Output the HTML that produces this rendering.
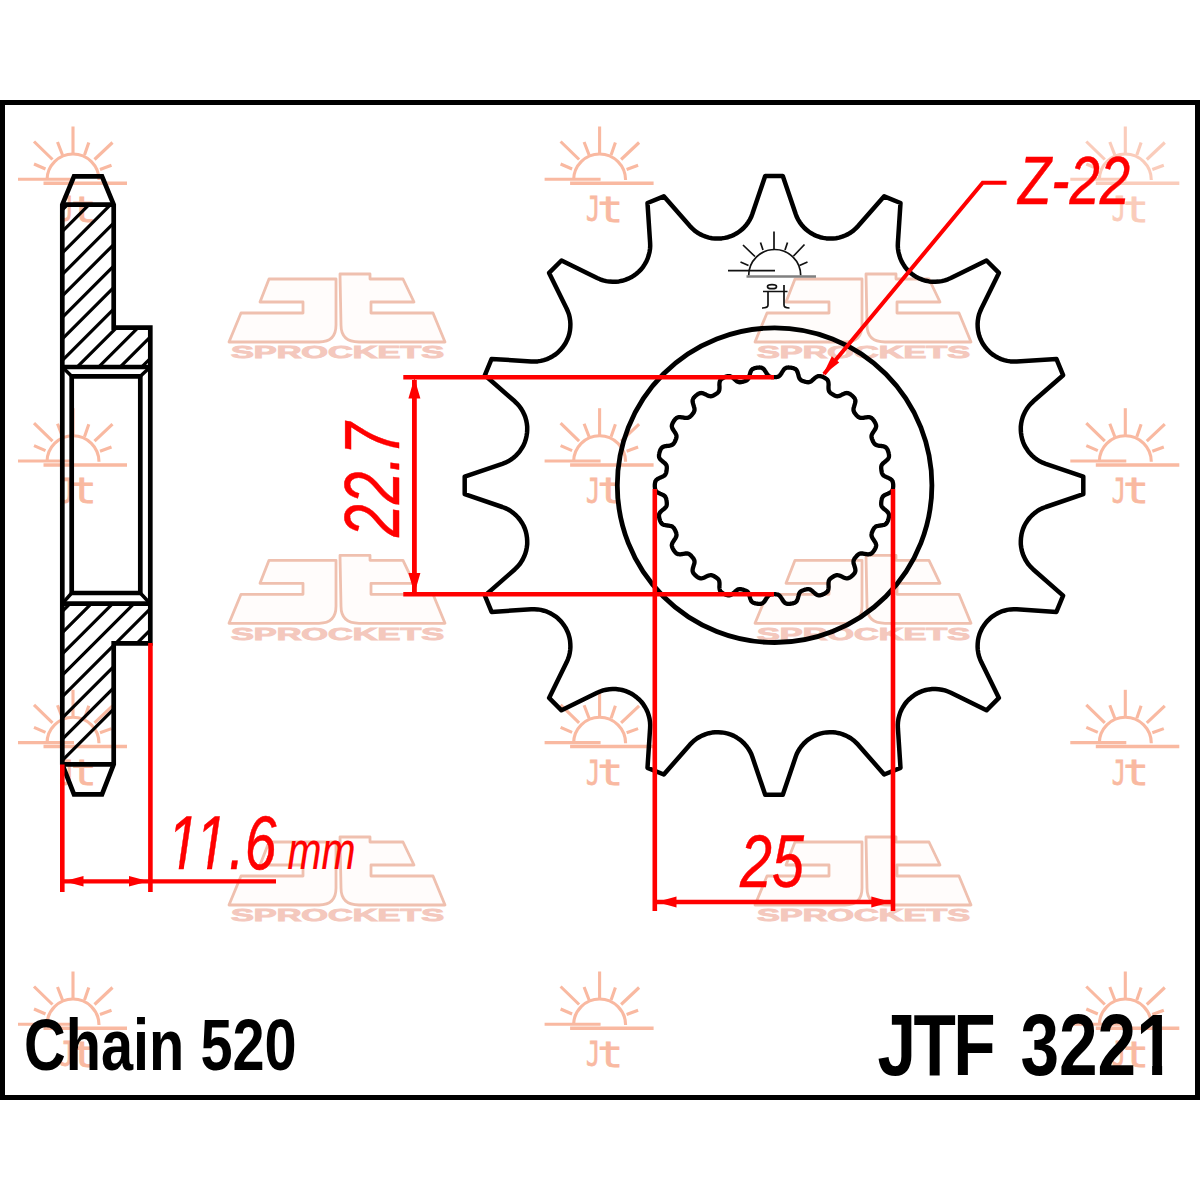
<!DOCTYPE html>
<html><head><meta charset="utf-8"><title>JTF 3221</title>
<style>
html,body{margin:0;padding:0;background:#fff;}
svg{display:block;}
text{font-family:"Liberation Sans",sans-serif;}
text.mono{font-family:"DejaVu Sans Mono","Liberation Mono",monospace;}
</style></head><body>
<svg width="1200" height="1200" viewBox="0 0 1200 1200">
<defs>
<g id="sun" fill="none" stroke="#f9b9a1" stroke-width="3.1" stroke-linecap="butt">
<path d="M-26,-1 A26,26 0 0 1 26,-1"/>
<path d="M-55,-1.7 H1"/>
<path d="M-29.5,2.2 H54" stroke-width="3.5"/>
<path d="M0,-54.5 V-27"/>
<path d="M-39,-39.5 L-20.5,-21.5 M39.5,-38.5 L21.5,-21.5"/>
<path d="M-15.5,-39 L-10.5,-26 M15.8,-38.5 L11.5,-26"/>
<path d="M-39,-17 L-27.5,-12 M38.5,-15.7 L27,-11.5"/>
<text class="mono" stroke-width="0.8" fill="#f9b9a1"><tspan x="-13.6" y="40.4" font-size="34.3" textLength="14.25" lengthAdjust="spacingAndGlyphs">J</tspan><tspan x="-2.1" y="40.7" font-size="36" textLength="25.6" lengthAdjust="spacingAndGlyphs">t</tspan></text>
</g>
<g id="jt">
<g fill="#fffcfb" stroke="#efc0af" stroke-width="2.8" stroke-linejoin="round">
<path d="M40,0 H107 V46 Q107,63 90,63 H0 L12,34 H74 V23 H31 Z"/>
<path d="M111,-5 H141 V0 H174 L185,23 H142 V34 H204 L216,63 H130 Q112,63 112,46 Z"/>
</g>
<text x="2" y="79.3" font-size="16.3" font-weight="bold" fill="#f4c8bd" stroke="#f4c8bd" stroke-width="0.9" textLength="213" lengthAdjust="spacingAndGlyphs">SPROCKETS</text>
</g>
<clipPath id="c11"><path d="M-20,-90 H300 V-6.34 H-20 Z M18.42,-16.59 L25.09,-16.59 L21.58,1.47 L14.91,1.47 Z M55.91,-16.59 L62.58,-16.59 L59.07,1.47 L52.39,1.47 Z M77.59,-8.34 H300 V20 H77.59 Z"/></clipPath>
<clipPath id="cjtf"><path d="M-20,-100 H326.59 V20 H-20 Z M325.59,-100 H384.59 V-9.48 H325.59 Z M344.60,-12.48 H357.13 V6 H344.60 Z"/></clipPath>
<clipPath id="hc1"><path d="M62.3,204.7 H113.7 V327.7 H150.3 V367 H62.3 Z"/></clipPath>
<clipPath id="hc2"><path d="M62.3,603.7 H150.3 V643.3 H113.7 V764.3 H62.3 Z"/></clipPath>
</defs>
<rect x="0" y="0" width="1200" height="1200" fill="#fff"/>
<!-- watermarks -->
<g>
<use href="#sun" x="73" y="181"/><use href="#sun" x="599.6" y="181"/><use href="#sun" x="1125.3" y="181" opacity="0.72"/><use href="#sun" x="73" y="462.7"/><use href="#sun" x="599.6" y="462.7"/><use href="#sun" x="1125.3" y="462.7"/><use href="#sun" x="73" y="744.3"/><use href="#sun" x="599.6" y="744.3"/><use href="#sun" x="1125.3" y="744.3"/><use href="#sun" x="73" y="1026"/><use href="#sun" x="599.6" y="1026"/><use href="#sun" x="1125.3" y="1026"/>
<use href="#jt" x="229" y="279"/><use href="#jt" x="755" y="279"/><use href="#jt" x="229" y="560.3"/><use href="#jt" x="755" y="560.3"/><use href="#jt" x="229" y="842"/><use href="#jt" x="755" y="842"/>
</g>
<!-- frame -->
<rect x="2.5" y="102.5" width="1195" height="995" fill="none" stroke="#000" stroke-width="5"/>

<!-- side view -->
<g fill="none" stroke="#000" stroke-width="4.7" stroke-linejoin="miter">
<g clip-path="url(#hc1)"><path d="M45.0,205.7 L185.0,65.7 M45.0,227.2 L185.0,87.2 M45.0,248.7 L185.0,108.7 M45.0,270.2 L185.0,130.2 M45.0,291.7 L185.0,151.7 M45.0,313.2 L185.0,173.2 M45.0,334.7 L185.0,194.7 M45.0,356.2 L185.0,216.2 M45.0,377.7 L185.0,237.7 M45.0,399.2 L185.0,259.2 M45.0,420.7 L185.0,280.7 M45.0,442.2 L185.0,302.2 M45.0,463.7 L185.0,323.7" stroke-width="3.2"/></g>
<g clip-path="url(#hc2)"><path d="M45.0,607.4 L185.0,467.4 M45.0,628.7 L185.0,488.7 M45.0,650.0 L185.0,510.0 M45.0,671.3 L185.0,531.3 M45.0,692.6 L185.0,552.6 M45.0,713.9 L185.0,573.9 M45.0,735.2 L185.0,595.2 M45.0,756.5 L185.0,616.5 M45.0,777.8 L185.0,637.8" stroke-width="3.2"/></g>
<path d="M74,176.3 H102 L113.7,204.7 V327.7 H150.3 V643.3 H113.7 V764.3 L102,794.3 H74 L62.3,764.3 V204.7 Z"/>
<path d="M62.3,204.7 H113.7 M62.3,764.3 H113.7"/>
<path d="M62.3,367 H150.3 M62.3,603.7 H150.3"/>
<path d="M71.7,376.3 H140.3 V593 H71.7 Z"/>
<path d="M62.3,367 L71.7,376.3 M150.3,367 L140.3,376.3 M62.3,603.7 L71.7,593 M150.3,603.7 L140.3,593" stroke-width="3.5"/>
</g>

<!-- sprocket -->
<g fill="none" stroke="#000" stroke-width="4.5" stroke-linejoin="round">
<path d="M782.8,176.1 L795.6,213.7 L796.7,216.7 L798.1,219.6 L799.8,222.3 L801.7,224.9 L803.8,227.3 L806.1,229.5 L808.6,231.5 L811.3,233.3 L814.1,234.9 L817.1,236.2 L820.1,237.2 L823.2,237.9 L826.4,238.4 L829.6,238.6 L832.8,238.6 L836.0,238.2 L839.1,237.6 L842.2,236.7 L845.2,235.5 L848.1,234.1 L850.8,232.5 L853.4,230.6 L855.8,228.4 L858.1,226.1 L884.2,196.3 L900.5,203.0 L897.9,242.6 L897.8,245.8 L898.0,249.0 L898.5,252.2 L899.3,255.3 L900.3,258.4 L901.6,261.3 L903.2,264.1 L904.9,266.8 L906.9,269.3 L909.2,271.6 L911.6,273.7 L914.2,275.6 L916.9,277.3 L919.8,278.7 L922.8,279.9 L925.9,280.8 L929.0,281.4 L932.2,281.7 L935.4,281.8 L938.6,281.6 L941.8,281.1 L944.9,280.4 L947.9,279.3 L950.9,278.0 L986.5,260.5 L998.9,272.9 L981.4,308.5 L980.1,311.5 L979.0,314.5 L978.3,317.6 L977.8,320.8 L977.6,324.0 L977.7,327.2 L978.0,330.4 L978.6,333.5 L979.5,336.6 L980.7,339.6 L982.1,342.5 L983.8,345.2 L985.7,347.8 L987.8,350.2 L990.1,352.5 L992.6,354.5 L995.3,356.2 L998.1,357.8 L1001.0,359.1 L1004.1,360.1 L1007.2,360.9 L1010.4,361.4 L1013.6,361.6 L1016.8,361.5 L1056.4,358.9 L1063.1,375.2 L1033.3,401.3 L1031.0,403.6 L1028.8,406.0 L1026.9,408.6 L1025.3,411.3 L1023.9,414.2 L1022.7,417.2 L1021.8,420.3 L1021.2,423.4 L1020.8,426.6 L1020.8,429.8 L1021.0,433.0 L1021.5,436.2 L1022.2,439.3 L1023.2,442.3 L1024.5,445.3 L1026.1,448.1 L1027.9,450.8 L1029.9,453.3 L1032.1,455.6 L1034.5,457.7 L1037.1,459.6 L1039.8,461.3 L1042.7,462.7 L1045.7,463.8 L1083.3,476.6 L1083.3,494.2 L1045.7,507.0 L1042.7,508.1 L1039.8,509.5 L1037.1,511.2 L1034.5,513.1 L1032.1,515.2 L1029.9,517.5 L1027.9,520.0 L1026.1,522.7 L1024.5,525.5 L1023.2,528.5 L1022.2,531.5 L1021.5,534.6 L1021.0,537.8 L1020.8,541.0 L1020.8,544.2 L1021.2,547.4 L1021.8,550.5 L1022.7,553.6 L1023.9,556.6 L1025.3,559.5 L1026.9,562.2 L1028.8,564.8 L1031.0,567.2 L1033.3,569.5 L1063.1,595.6 L1056.4,611.9 L1016.8,609.3 L1013.6,609.2 L1010.4,609.4 L1007.2,609.9 L1004.1,610.7 L1001.0,611.7 L998.1,613.0 L995.3,614.6 L992.6,616.3 L990.1,618.3 L987.8,620.6 L985.7,623.0 L983.8,625.6 L982.1,628.3 L980.7,631.2 L979.5,634.2 L978.6,637.3 L978.0,640.4 L977.7,643.6 L977.6,646.8 L977.8,650.0 L978.3,653.2 L979.0,656.3 L980.1,659.3 L981.4,662.3 L998.9,697.9 L986.5,710.3 L950.9,692.8 L947.9,691.5 L944.9,690.4 L941.8,689.7 L938.6,689.2 L935.4,689.0 L932.2,689.1 L929.0,689.4 L925.9,690.0 L922.8,690.9 L919.8,692.1 L916.9,693.5 L914.2,695.2 L911.6,697.1 L909.2,699.2 L906.9,701.5 L904.9,704.0 L903.2,706.7 L901.6,709.5 L900.3,712.4 L899.3,715.5 L898.5,718.6 L898.0,721.8 L897.8,725.0 L897.9,728.2 L900.5,767.8 L884.2,774.5 L858.1,744.7 L855.8,742.4 L853.4,740.2 L850.8,738.3 L848.1,736.7 L845.2,735.3 L842.2,734.1 L839.1,733.2 L836.0,732.6 L832.8,732.2 L829.6,732.2 L826.4,732.4 L823.2,732.9 L820.1,733.6 L817.1,734.6 L814.1,735.9 L811.3,737.5 L808.6,739.3 L806.1,741.3 L803.8,743.5 L801.7,745.9 L799.8,748.5 L798.1,751.2 L796.7,754.1 L795.6,757.1 L782.8,794.7 L765.2,794.7 L752.4,757.1 L751.3,754.1 L749.9,751.2 L748.2,748.5 L746.3,745.9 L744.2,743.5 L741.9,741.3 L739.4,739.3 L736.7,737.5 L733.9,735.9 L730.9,734.6 L727.9,733.6 L724.8,732.9 L721.6,732.4 L718.4,732.2 L715.2,732.2 L712.0,732.6 L708.9,733.2 L705.8,734.1 L702.8,735.3 L699.9,736.7 L697.2,738.3 L694.6,740.2 L692.2,742.4 L689.9,744.7 L663.8,774.5 L647.5,767.8 L650.1,728.2 L650.2,725.0 L650.0,721.8 L649.5,718.6 L648.7,715.5 L647.7,712.4 L646.4,709.5 L644.8,706.7 L643.1,704.0 L641.1,701.5 L638.8,699.2 L636.4,697.1 L633.8,695.2 L631.1,693.5 L628.2,692.1 L625.2,690.9 L622.1,690.0 L619.0,689.4 L615.8,689.1 L612.6,689.0 L609.4,689.2 L606.2,689.7 L603.1,690.4 L600.1,691.5 L597.1,692.8 L561.5,710.3 L549.1,697.9 L566.6,662.3 L567.9,659.3 L569.0,656.3 L569.7,653.2 L570.2,650.0 L570.4,646.8 L570.3,643.6 L570.0,640.4 L569.4,637.3 L568.5,634.2 L567.3,631.2 L565.9,628.3 L564.2,625.6 L562.3,623.0 L560.2,620.6 L557.9,618.3 L555.4,616.3 L552.7,614.6 L549.9,613.0 L547.0,611.7 L543.9,610.7 L540.8,609.9 L537.6,609.4 L534.4,609.2 L531.2,609.3 L491.6,611.9 L484.9,595.6 L514.7,569.5 L517.0,567.2 L519.2,564.8 L521.1,562.2 L522.7,559.5 L524.1,556.6 L525.3,553.6 L526.2,550.5 L526.8,547.4 L527.2,544.2 L527.2,541.0 L527.0,537.8 L526.5,534.6 L525.8,531.5 L524.8,528.5 L523.5,525.5 L521.9,522.7 L520.1,520.0 L518.1,517.5 L515.9,515.2 L513.5,513.1 L510.9,511.2 L508.2,509.5 L505.3,508.1 L502.3,507.0 L464.7,494.2 L464.7,476.6 L502.3,463.8 L505.3,462.7 L508.2,461.3 L510.9,459.6 L513.5,457.7 L515.9,455.6 L518.1,453.3 L520.1,450.8 L521.9,448.1 L523.5,445.3 L524.8,442.3 L525.8,439.3 L526.5,436.2 L527.0,433.0 L527.2,429.8 L527.2,426.6 L526.8,423.4 L526.2,420.3 L525.3,417.2 L524.1,414.2 L522.7,411.3 L521.1,408.6 L519.2,406.0 L517.0,403.6 L514.7,401.3 L484.9,375.2 L491.6,358.9 L531.2,361.5 L534.4,361.6 L537.6,361.4 L540.8,360.9 L543.9,360.1 L547.0,359.1 L549.9,357.8 L552.7,356.2 L555.4,354.5 L557.9,352.5 L560.2,350.2 L562.3,347.8 L564.2,345.2 L565.9,342.5 L567.3,339.6 L568.5,336.6 L569.4,333.5 L570.0,330.4 L570.3,327.2 L570.4,324.0 L570.2,320.8 L569.7,317.6 L569.0,314.5 L567.9,311.5 L566.6,308.5 L549.1,272.9 L561.5,260.5 L597.1,278.0 L600.1,279.3 L603.1,280.4 L606.2,281.1 L609.4,281.6 L612.6,281.8 L615.8,281.7 L619.0,281.4 L622.1,280.8 L625.2,279.9 L628.2,278.7 L631.1,277.3 L633.8,275.6 L636.4,273.7 L638.8,271.6 L641.1,269.3 L643.1,266.8 L644.8,264.1 L646.4,261.3 L647.7,258.4 L648.7,255.3 L649.5,252.2 L650.0,249.0 L650.2,245.8 L650.1,242.6 L647.5,203.0 L663.8,196.3 L689.9,226.1 L692.2,228.4 L694.6,230.6 L697.2,232.5 L699.9,234.1 L702.8,235.5 L705.8,236.7 L708.9,237.6 L712.0,238.2 L715.2,238.6 L718.4,238.6 L721.6,238.4 L724.8,237.9 L727.9,237.2 L730.9,236.2 L733.9,234.9 L736.7,233.3 L739.4,231.5 L741.9,229.5 L744.2,227.3 L746.3,224.9 L748.2,222.3 L749.9,219.6 L751.3,216.7 L752.4,213.7 L765.2,176.1 Z"/>
<circle cx="774.6" cy="485.2" r="157.3" stroke-width="4.8"/>
<path d="M893.2,485.7 L893.2,486.2 L893.2,486.7 L893.1,487.3 L893.1,487.8 L893.0,488.3 L892.9,488.8 L892.8,489.3 L892.6,489.8 L892.4,490.4 L892.1,490.9 L891.7,491.4 L891.2,491.8 L890.6,492.3 L889.8,492.8 L888.9,493.2 L887.9,493.7 L886.9,494.1 L886.0,494.5 L885.1,494.9 L884.3,495.4 L883.7,495.8 L883.2,496.2 L882.8,496.7 L882.5,497.1 L882.3,497.6 L882.1,498.0 L881.9,498.5 L881.8,498.9 L881.7,499.4 L881.6,499.9 L881.5,500.3 L881.4,500.8 L881.4,501.3 L881.3,501.7 L881.3,502.2 L881.2,502.7 L881.2,503.2 L881.2,503.6 L881.2,504.1 L881.2,504.6 L881.3,505.1 L881.4,505.6 L881.6,506.1 L881.9,506.7 L882.4,507.3 L882.9,507.9 L883.6,508.5 L884.3,509.2 L885.2,509.8 L886.0,510.5 L886.8,511.2 L887.5,511.9 L888.0,512.5 L888.4,513.2 L888.7,513.8 L888.9,514.3 L889.0,514.9 L889.0,515.4 L889.0,516.0 L889.0,516.5 L888.9,517.0 L888.8,517.5 L888.7,518.0 L888.6,518.6 L888.4,519.1 L888.3,519.6 L888.1,520.0 L888.0,520.5 L887.8,521.0 L887.6,521.5 L887.3,522.0 L887.1,522.4 L886.8,522.9 L886.5,523.3 L886.1,523.7 L885.6,524.1 L885.0,524.5 L884.3,524.8 L883.5,525.0 L882.6,525.2 L881.6,525.4 L880.5,525.5 L879.4,525.6 L878.4,525.8 L877.5,526.0 L876.7,526.2 L876.1,526.4 L875.6,526.7 L875.1,527.1 L874.7,527.4 L874.4,527.8 L874.1,528.2 L873.8,528.6 L873.6,529.0 L873.4,529.4 L873.1,529.8 L872.9,530.3 L872.7,530.7 L872.5,531.1 L872.3,531.6 L872.2,532.0 L872.0,532.4 L871.8,532.9 L871.7,533.4 L871.6,533.8 L871.5,534.3 L871.5,534.8 L871.5,535.4 L871.6,536.0 L871.8,536.6 L872.1,537.3 L872.5,538.1 L873.0,538.9 L873.6,539.8 L874.2,540.7 L874.8,541.6 L875.3,542.4 L875.7,543.2 L875.9,544.0 L876.1,544.6 L876.2,545.3 L876.1,545.9 L876.0,546.4 L875.9,546.9 L875.7,547.4 L875.5,547.9 L875.3,548.4 L875.1,548.8 L874.8,549.3 L874.5,549.7 L874.3,550.2 L874.0,550.6 L873.7,551.0 L873.4,551.5 L873.0,551.9 L872.7,552.3 L872.3,552.7 L871.9,553.0 L871.5,553.4 L871.1,553.7 L870.5,553.9 L869.9,554.1 L869.2,554.2 L868.4,554.3 L867.5,554.3 L866.5,554.1 L865.4,554.0 L864.4,553.8 L863.3,553.6 L862.4,553.5 L861.5,553.5 L860.8,553.5 L860.1,553.6 L859.6,553.8 L859.1,554.0 L858.7,554.3 L858.2,554.5 L857.9,554.8 L857.5,555.2 L857.2,555.5 L856.8,555.8 L856.5,556.2 L856.2,556.5 L855.9,556.9 L855.6,557.2 L855.3,557.6 L855.0,558.0 L854.7,558.4 L854.4,558.8 L854.2,559.2 L854.0,559.6 L853.8,560.1 L853.6,560.6 L853.5,561.1 L853.5,561.8 L853.5,562.5 L853.6,563.3 L853.9,564.2 L854.2,565.2 L854.5,566.2 L854.8,567.2 L855.1,568.2 L855.3,569.2 L855.4,570.0 L855.4,570.7 L855.3,571.4 L855.1,571.9 L854.9,572.5 L854.7,572.9 L854.4,573.4 L854.0,573.8 L853.7,574.2 L853.3,574.6 L853.0,575.0 L852.6,575.3 L852.2,575.7 L851.8,576.0 L851.4,576.3 L851.0,576.7 L850.6,577.0 L850.1,577.3 L849.7,577.5 L849.2,577.8 L848.7,578.0 L848.2,578.2 L847.7,578.3 L847.1,578.4 L846.4,578.3 L845.6,578.2 L844.8,578.0 L843.9,577.6 L842.9,577.2 L842.0,576.7 L841.0,576.2 L840.1,575.8 L839.2,575.5 L838.5,575.3 L837.8,575.2 L837.2,575.1 L836.6,575.2 L836.1,575.3 L835.7,575.4 L835.2,575.6 L834.8,575.8 L834.3,576.0 L833.9,576.2 L833.5,576.5 L833.1,576.7 L832.7,577.0 L832.3,577.2 L831.9,577.5 L831.5,577.8 L831.1,578.0 L830.8,578.3 L830.4,578.6 L830.0,579.0 L829.7,579.4 L829.4,579.8 L829.1,580.2 L828.9,580.8 L828.7,581.4 L828.6,582.2 L828.5,583.1 L828.5,584.1 L828.5,585.1 L828.6,586.2 L828.6,587.3 L828.5,588.3 L828.4,589.1 L828.2,589.9 L828.0,590.5 L827.7,591.1 L827.4,591.6 L827.0,592.0 L826.6,592.3 L826.2,592.6 L825.7,592.9 L825.3,593.2 L824.8,593.5 L824.4,593.7 L823.9,593.9 L823.4,594.2 L823.0,594.4 L822.5,594.6 L822.0,594.8 L821.5,594.9 L821.0,595.1 L820.5,595.2 L820.0,595.3 L819.4,595.3 L818.9,595.3 L818.3,595.3 L817.6,595.1 L817.0,594.8 L816.3,594.4 L815.5,593.9 L814.7,593.2 L813.9,592.5 L813.1,591.8 L812.4,591.1 L811.6,590.5 L810.9,590.0 L810.3,589.6 L809.7,589.4 L809.1,589.2 L808.6,589.2 L808.1,589.1 L807.6,589.2 L807.1,589.2 L806.7,589.3 L806.2,589.4 L805.7,589.5 L805.3,589.6 L804.8,589.7 L804.4,589.9 L803.9,590.0 L803.5,590.2 L803.0,590.3 L802.6,590.5 L802.1,590.7 L801.7,590.9 L801.3,591.1 L800.8,591.4 L800.4,591.8 L800.1,592.2 L799.7,592.7 L799.3,593.3 L799.0,594.1 L798.7,595.0 L798.5,596.0 L798.2,597.0 L797.9,598.1 L797.6,599.1 L797.2,599.9 L796.9,600.7 L796.5,601.3 L796.0,601.8 L795.6,602.2 L795.1,602.5 L794.6,602.7 L794.1,602.9 L793.6,603.1 L793.1,603.3 L792.6,603.4 L792.1,603.5 L791.6,603.6 L791.1,603.7 L790.6,603.7 L790.1,603.8 L789.6,603.8 L789.0,603.9 L788.5,603.9 L788.0,603.9 L787.5,603.8 L786.9,603.8 L786.4,603.6 L785.9,603.4 L785.3,603.1 L784.8,602.7 L784.2,602.2 L783.6,601.5 L783.1,600.7 L782.5,599.9 L781.9,598.9 L781.4,598.0 L780.8,597.2 L780.3,596.5 L779.8,595.9 L779.3,595.4 L778.8,595.1 L778.3,594.8 L777.8,594.6 L777.3,594.5 L776.8,594.4 L776.4,594.3 L775.9,594.3 L775.4,594.2 L774.9,594.2 L774.5,594.2 L774.0,594.2 L773.5,594.2 L773.1,594.2 L772.6,594.2 L772.1,594.3 L771.6,594.3 L771.2,594.4 L770.7,594.5 L770.2,594.6 L769.7,594.8 L769.2,595.1 L768.7,595.4 L768.2,595.9 L767.7,596.5 L767.2,597.2 L766.6,598.0 L766.1,598.9 L765.5,599.9 L764.9,600.7 L764.4,601.5 L763.8,602.2 L763.2,602.7 L762.7,603.1 L762.1,603.4 L761.6,603.6 L761.1,603.8 L760.5,603.8 L760.0,603.9 L759.5,603.9 L759.0,603.9 L758.4,603.8 L757.9,603.8 L757.4,603.7 L756.9,603.7 L756.4,603.6 L755.9,603.5 L755.4,603.4 L754.9,603.3 L754.4,603.1 L753.9,602.9 L753.4,602.7 L752.9,602.5 L752.4,602.2 L752.0,601.8 L751.5,601.3 L751.1,600.7 L750.8,599.9 L750.4,599.1 L750.1,598.1 L749.8,597.0 L749.5,596.0 L749.3,595.0 L749.0,594.1 L748.7,593.3 L748.3,592.7 L747.9,592.2 L747.6,591.8 L747.2,591.4 L746.7,591.1 L746.3,590.9 L745.9,590.7 L745.4,590.5 L745.0,590.3 L744.5,590.2 L744.1,590.0 L743.6,589.9 L743.2,589.7 L742.7,589.6 L742.3,589.5 L741.8,589.4 L741.3,589.3 L740.9,589.2 L740.4,589.2 L739.9,589.1 L739.4,589.2 L738.9,589.2 L738.3,589.4 L737.7,589.6 L737.1,590.0 L736.4,590.5 L735.6,591.1 L734.9,591.8 L734.1,592.5 L733.3,593.2 L732.5,593.9 L731.7,594.4 L731.0,594.8 L730.4,595.1 L729.7,595.3 L729.1,595.3 L728.6,595.3 L728.0,595.3 L727.5,595.2 L727.0,595.1 L726.5,594.9 L726.0,594.8 L725.5,594.6 L725.0,594.4 L724.6,594.2 L724.1,593.9 L723.6,593.7 L723.2,593.5 L722.7,593.2 L722.3,592.9 L721.8,592.6 L721.4,592.3 L721.0,592.0 L720.6,591.6 L720.3,591.1 L720.0,590.5 L719.8,589.9 L719.6,589.1 L719.5,588.3 L719.4,587.3 L719.4,586.2 L719.5,585.1 L719.5,584.1 L719.5,583.1 L719.4,582.2 L719.3,581.4 L719.1,580.8 L718.9,580.2 L718.6,579.8 L718.3,579.4 L718.0,579.0 L717.6,578.6 L717.2,578.3 L716.9,578.0 L716.5,577.8 L716.1,577.5 L715.7,577.2 L715.3,577.0 L714.9,576.7 L714.5,576.5 L714.1,576.2 L713.7,576.0 L713.2,575.8 L712.8,575.6 L712.3,575.4 L711.9,575.3 L711.4,575.2 L710.8,575.1 L710.2,575.2 L709.5,575.3 L708.8,575.5 L707.9,575.8 L707.0,576.2 L706.0,576.7 L705.1,577.2 L704.1,577.6 L703.2,578.0 L702.4,578.2 L701.6,578.3 L700.9,578.4 L700.3,578.3 L699.8,578.2 L699.3,578.0 L698.8,577.8 L698.3,577.5 L697.9,577.3 L697.4,577.0 L697.0,576.7 L696.6,576.3 L696.2,576.0 L695.8,575.7 L695.4,575.3 L695.0,575.0 L694.7,574.6 L694.3,574.2 L694.0,573.8 L693.6,573.4 L693.3,572.9 L693.1,572.5 L692.9,571.9 L692.7,571.4 L692.6,570.7 L692.6,570.0 L692.7,569.2 L692.9,568.2 L693.2,567.2 L693.5,566.2 L693.8,565.2 L694.1,564.2 L694.4,563.3 L694.5,562.5 L694.5,561.8 L694.5,561.1 L694.4,560.6 L694.2,560.1 L694.0,559.6 L693.8,559.2 L693.6,558.8 L693.3,558.4 L693.0,558.0 L692.7,557.6 L692.4,557.2 L692.1,556.9 L691.8,556.5 L691.5,556.2 L691.2,555.8 L690.8,555.5 L690.5,555.2 L690.1,554.8 L689.8,554.5 L689.3,554.3 L688.9,554.0 L688.4,553.8 L687.9,553.6 L687.2,553.5 L686.5,553.5 L685.6,553.5 L684.7,553.6 L683.6,553.8 L682.6,554.0 L681.5,554.1 L680.5,554.3 L679.6,554.3 L678.8,554.2 L678.1,554.1 L677.5,553.9 L676.9,553.7 L676.5,553.4 L676.1,553.0 L675.7,552.7 L675.3,552.3 L675.0,551.9 L674.6,551.5 L674.3,551.0 L674.0,550.6 L673.7,550.2 L673.5,549.7 L673.2,549.3 L672.9,548.8 L672.7,548.4 L672.5,547.9 L672.3,547.4 L672.1,546.9 L672.0,546.4 L671.9,545.9 L671.8,545.3 L671.9,544.6 L672.1,544.0 L672.3,543.2 L672.7,542.4 L673.2,541.6 L673.8,540.7 L674.4,539.8 L675.0,538.9 L675.5,538.1 L675.9,537.3 L676.2,536.6 L676.4,536.0 L676.5,535.4 L676.5,534.8 L676.5,534.3 L676.4,533.8 L676.3,533.4 L676.2,532.9 L676.0,532.4 L675.8,532.0 L675.7,531.6 L675.5,531.1 L675.3,530.7 L675.1,530.3 L674.9,529.8 L674.6,529.4 L674.4,529.0 L674.2,528.6 L673.9,528.2 L673.6,527.8 L673.3,527.4 L672.9,527.1 L672.4,526.7 L671.9,526.4 L671.3,526.2 L670.5,526.0 L669.6,525.8 L668.6,525.6 L667.5,525.5 L666.4,525.4 L665.4,525.2 L664.5,525.0 L663.7,524.8 L663.0,524.5 L662.4,524.1 L661.9,523.7 L661.5,523.3 L661.2,522.9 L660.9,522.4 L660.7,522.0 L660.4,521.5 L660.2,521.0 L660.0,520.5 L659.9,520.0 L659.7,519.6 L659.6,519.1 L659.4,518.6 L659.3,518.0 L659.2,517.5 L659.1,517.0 L659.0,516.5 L659.0,516.0 L659.0,515.4 L659.0,514.9 L659.1,514.3 L659.3,513.8 L659.6,513.2 L660.0,512.5 L660.5,511.9 L661.2,511.2 L662.0,510.5 L662.8,509.8 L663.7,509.2 L664.4,508.5 L665.1,507.9 L665.6,507.3 L666.1,506.7 L666.4,506.1 L666.6,505.6 L666.7,505.1 L666.8,504.6 L666.8,504.1 L666.8,503.6 L666.8,503.2 L666.8,502.7 L666.7,502.2 L666.7,501.7 L666.6,501.3 L666.6,500.8 L666.5,500.3 L666.4,499.9 L666.3,499.4 L666.2,498.9 L666.1,498.5 L665.9,498.0 L665.7,497.6 L665.5,497.1 L665.2,496.7 L664.8,496.2 L664.3,495.8 L663.7,495.4 L662.9,494.9 L662.0,494.5 L661.1,494.1 L660.1,493.7 L659.1,493.2 L658.2,492.8 L657.4,492.3 L656.8,491.8 L656.3,491.4 L655.9,490.9 L655.6,490.4 L655.4,489.8 L655.2,489.3 L655.1,488.8 L655.0,488.3 L654.9,487.8 L654.9,487.3 L654.8,486.7 L654.8,486.2 L654.8,485.7 L654.8,485.2 L654.8,484.7 L654.9,484.1 L654.9,483.6 L655.0,483.1 L655.1,482.6 L655.2,482.1 L655.4,481.6 L655.6,481.0 L655.9,480.5 L656.3,480.0 L656.8,479.6 L657.4,479.1 L658.2,478.6 L659.1,478.2 L660.1,477.7 L661.1,477.3 L662.0,476.9 L662.9,476.5 L663.7,476.0 L664.3,475.6 L664.8,475.2 L665.2,474.7 L665.5,474.3 L665.7,473.8 L665.9,473.4 L666.1,472.9 L666.2,472.5 L666.3,472.0 L666.4,471.5 L666.5,471.1 L666.6,470.6 L666.6,470.1 L666.7,469.7 L666.7,469.2 L666.8,468.7 L666.8,468.2 L666.8,467.8 L666.8,467.3 L666.8,466.8 L666.7,466.3 L666.6,465.8 L666.4,465.3 L666.1,464.7 L665.6,464.1 L665.1,463.5 L664.4,462.9 L663.7,462.2 L662.8,461.6 L662.0,460.9 L661.2,460.2 L660.5,459.5 L660.0,458.9 L659.6,458.2 L659.3,457.6 L659.1,457.1 L659.0,456.5 L659.0,456.0 L659.0,455.4 L659.0,454.9 L659.1,454.4 L659.2,453.9 L659.3,453.4 L659.4,452.8 L659.6,452.3 L659.7,451.8 L659.9,451.4 L660.0,450.9 L660.2,450.4 L660.4,449.9 L660.7,449.4 L660.9,449.0 L661.2,448.5 L661.5,448.1 L661.9,447.7 L662.4,447.3 L663.0,446.9 L663.7,446.6 L664.5,446.4 L665.4,446.2 L666.4,446.0 L667.5,445.9 L668.6,445.8 L669.6,445.6 L670.5,445.4 L671.3,445.2 L671.9,445.0 L672.4,444.7 L672.9,444.3 L673.3,444.0 L673.6,443.6 L673.9,443.2 L674.2,442.8 L674.4,442.4 L674.6,442.0 L674.9,441.6 L675.1,441.1 L675.3,440.7 L675.5,440.3 L675.7,439.8 L675.8,439.4 L676.0,439.0 L676.2,438.5 L676.3,438.0 L676.4,437.6 L676.5,437.1 L676.5,436.6 L676.5,436.0 L676.4,435.4 L676.2,434.8 L675.9,434.1 L675.5,433.3 L675.0,432.5 L674.4,431.6 L673.8,430.7 L673.2,429.8 L672.7,429.0 L672.3,428.2 L672.1,427.4 L671.9,426.8 L671.8,426.1 L671.9,425.5 L672.0,425.0 L672.1,424.5 L672.3,424.0 L672.5,423.5 L672.7,423.0 L672.9,422.6 L673.2,422.1 L673.5,421.7 L673.7,421.2 L674.0,420.8 L674.3,420.4 L674.6,419.9 L675.0,419.5 L675.3,419.1 L675.7,418.7 L676.1,418.4 L676.5,418.0 L676.9,417.7 L677.5,417.5 L678.1,417.3 L678.8,417.2 L679.6,417.1 L680.5,417.1 L681.5,417.3 L682.6,417.4 L683.6,417.6 L684.7,417.8 L685.6,417.9 L686.5,417.9 L687.2,417.9 L687.9,417.8 L688.4,417.6 L688.9,417.4 L689.3,417.1 L689.8,416.9 L690.1,416.6 L690.5,416.2 L690.8,415.9 L691.2,415.6 L691.5,415.2 L691.8,414.9 L692.1,414.5 L692.4,414.2 L692.7,413.8 L693.0,413.4 L693.3,413.0 L693.6,412.6 L693.8,412.2 L694.0,411.8 L694.2,411.3 L694.4,410.8 L694.5,410.3 L694.5,409.6 L694.5,408.9 L694.4,408.1 L694.1,407.2 L693.8,406.2 L693.5,405.2 L693.2,404.2 L692.9,403.2 L692.7,402.2 L692.6,401.4 L692.6,400.7 L692.7,400.0 L692.9,399.5 L693.1,398.9 L693.3,398.5 L693.6,398.0 L694.0,397.6 L694.3,397.2 L694.7,396.8 L695.0,396.4 L695.4,396.1 L695.8,395.7 L696.2,395.4 L696.6,395.1 L697.0,394.7 L697.4,394.4 L697.9,394.1 L698.3,393.9 L698.8,393.6 L699.3,393.4 L699.8,393.2 L700.3,393.1 L700.9,393.0 L701.6,393.1 L702.4,393.2 L703.2,393.4 L704.1,393.8 L705.1,394.2 L706.0,394.7 L707.0,395.2 L707.9,395.6 L708.8,395.9 L709.5,396.1 L710.2,396.2 L710.8,396.3 L711.4,396.2 L711.9,396.1 L712.3,396.0 L712.8,395.8 L713.2,395.6 L713.7,395.4 L714.1,395.2 L714.5,394.9 L714.9,394.7 L715.3,394.4 L715.7,394.2 L716.1,393.9 L716.5,393.6 L716.9,393.4 L717.2,393.1 L717.6,392.8 L718.0,392.4 L718.3,392.0 L718.6,391.6 L718.9,391.2 L719.1,390.6 L719.3,390.0 L719.4,389.2 L719.5,388.3 L719.5,387.3 L719.5,386.3 L719.4,385.2 L719.4,384.1 L719.5,383.1 L719.6,382.3 L719.8,381.5 L720.0,380.9 L720.3,380.3 L720.6,379.8 L721.0,379.4 L721.4,379.1 L721.8,378.8 L722.3,378.5 L722.7,378.2 L723.2,377.9 L723.6,377.7 L724.1,377.5 L724.6,377.2 L725.0,377.0 L725.5,376.8 L726.0,376.6 L726.5,376.5 L727.0,376.3 L727.5,376.2 L728.0,376.1 L728.6,376.1 L729.1,376.1 L729.7,376.1 L730.4,376.3 L731.0,376.6 L731.7,377.0 L732.5,377.5 L733.3,378.2 L734.1,378.9 L734.9,379.6 L735.6,380.3 L736.4,380.9 L737.1,381.4 L737.7,381.8 L738.3,382.0 L738.9,382.2 L739.4,382.2 L739.9,382.3 L740.4,382.2 L740.9,382.2 L741.3,382.1 L741.8,382.0 L742.3,381.9 L742.7,381.8 L743.2,381.7 L743.6,381.5 L744.1,381.4 L744.5,381.2 L745.0,381.1 L745.4,380.9 L745.9,380.7 L746.3,380.5 L746.7,380.3 L747.2,380.0 L747.6,379.6 L747.9,379.2 L748.3,378.7 L748.7,378.1 L749.0,377.3 L749.3,376.4 L749.5,375.4 L749.8,374.4 L750.1,373.3 L750.4,372.3 L750.8,371.5 L751.1,370.7 L751.5,370.1 L752.0,369.6 L752.4,369.2 L752.9,368.9 L753.4,368.7 L753.9,368.5 L754.4,368.3 L754.9,368.1 L755.4,368.0 L755.9,367.9 L756.4,367.8 L756.9,367.7 L757.4,367.7 L757.9,367.6 L758.4,367.6 L759.0,367.5 L759.5,367.5 L760.0,367.5 L760.5,367.6 L761.1,367.6 L761.6,367.8 L762.1,368.0 L762.7,368.3 L763.2,368.7 L763.8,369.2 L764.4,369.9 L764.9,370.7 L765.5,371.5 L766.1,372.5 L766.6,373.4 L767.2,374.2 L767.7,374.9 L768.2,375.5 L768.7,376.0 L769.2,376.3 L769.7,376.6 L770.2,376.8 L770.7,376.9 L771.2,377.0 L771.6,377.1 L772.1,377.1 L772.6,377.2 L773.1,377.2 L773.5,377.2 L774.0,377.2 L774.5,377.2 L774.9,377.2 L775.4,377.2 L775.9,377.1 L776.4,377.1 L776.8,377.0 L777.3,376.9 L777.8,376.8 L778.3,376.6 L778.8,376.3 L779.3,376.0 L779.8,375.5 L780.3,374.9 L780.8,374.2 L781.4,373.4 L781.9,372.5 L782.5,371.5 L783.1,370.7 L783.6,369.9 L784.2,369.2 L784.8,368.7 L785.3,368.3 L785.9,368.0 L786.4,367.8 L786.9,367.6 L787.5,367.6 L788.0,367.5 L788.5,367.5 L789.0,367.5 L789.6,367.6 L790.1,367.6 L790.6,367.7 L791.1,367.7 L791.6,367.8 L792.1,367.9 L792.6,368.0 L793.1,368.1 L793.6,368.3 L794.1,368.5 L794.6,368.7 L795.1,368.9 L795.6,369.2 L796.0,369.6 L796.5,370.1 L796.9,370.7 L797.2,371.5 L797.6,372.3 L797.9,373.3 L798.2,374.4 L798.5,375.4 L798.7,376.4 L799.0,377.3 L799.3,378.1 L799.7,378.7 L800.1,379.2 L800.4,379.6 L800.8,380.0 L801.3,380.3 L801.7,380.5 L802.1,380.7 L802.6,380.9 L803.0,381.1 L803.5,381.2 L803.9,381.4 L804.4,381.5 L804.8,381.7 L805.3,381.8 L805.7,381.9 L806.2,382.0 L806.7,382.1 L807.1,382.2 L807.6,382.2 L808.1,382.3 L808.6,382.2 L809.1,382.2 L809.7,382.0 L810.3,381.8 L810.9,381.4 L811.6,380.9 L812.4,380.3 L813.1,379.6 L813.9,378.9 L814.7,378.2 L815.5,377.5 L816.3,377.0 L817.0,376.6 L817.6,376.3 L818.3,376.1 L818.9,376.1 L819.4,376.1 L820.0,376.1 L820.5,376.2 L821.0,376.3 L821.5,376.5 L822.0,376.6 L822.5,376.8 L823.0,377.0 L823.4,377.2 L823.9,377.5 L824.4,377.7 L824.8,377.9 L825.3,378.2 L825.7,378.5 L826.2,378.8 L826.6,379.1 L827.0,379.4 L827.4,379.8 L827.7,380.3 L828.0,380.9 L828.2,381.5 L828.4,382.3 L828.5,383.1 L828.6,384.1 L828.6,385.2 L828.5,386.3 L828.5,387.3 L828.5,388.3 L828.6,389.2 L828.7,390.0 L828.9,390.6 L829.1,391.2 L829.4,391.6 L829.7,392.0 L830.0,392.4 L830.4,392.8 L830.8,393.1 L831.1,393.4 L831.5,393.6 L831.9,393.9 L832.3,394.2 L832.7,394.4 L833.1,394.7 L833.5,394.9 L833.9,395.2 L834.3,395.4 L834.8,395.6 L835.2,395.8 L835.7,396.0 L836.1,396.1 L836.6,396.2 L837.2,396.3 L837.8,396.2 L838.5,396.1 L839.2,395.9 L840.1,395.6 L841.0,395.2 L842.0,394.7 L842.9,394.2 L843.9,393.8 L844.8,393.4 L845.6,393.2 L846.4,393.1 L847.1,393.0 L847.7,393.1 L848.2,393.2 L848.7,393.4 L849.2,393.6 L849.7,393.9 L850.1,394.1 L850.6,394.4 L851.0,394.7 L851.4,395.1 L851.8,395.4 L852.2,395.7 L852.6,396.1 L853.0,396.4 L853.3,396.8 L853.7,397.2 L854.0,397.6 L854.4,398.0 L854.7,398.5 L854.9,398.9 L855.1,399.5 L855.3,400.0 L855.4,400.7 L855.4,401.4 L855.3,402.2 L855.1,403.2 L854.8,404.2 L854.5,405.2 L854.2,406.2 L853.9,407.2 L853.6,408.1 L853.5,408.9 L853.5,409.6 L853.5,410.3 L853.6,410.8 L853.8,411.3 L854.0,411.8 L854.2,412.2 L854.4,412.6 L854.7,413.0 L855.0,413.4 L855.3,413.8 L855.6,414.2 L855.9,414.5 L856.2,414.9 L856.5,415.2 L856.8,415.6 L857.2,415.9 L857.5,416.2 L857.9,416.6 L858.2,416.9 L858.7,417.1 L859.1,417.4 L859.6,417.6 L860.1,417.8 L860.8,417.9 L861.5,417.9 L862.4,417.9 L863.3,417.8 L864.4,417.6 L865.4,417.4 L866.5,417.3 L867.5,417.1 L868.4,417.1 L869.2,417.2 L869.9,417.3 L870.5,417.5 L871.1,417.7 L871.5,418.0 L871.9,418.4 L872.3,418.7 L872.7,419.1 L873.0,419.5 L873.4,419.9 L873.7,420.4 L874.0,420.8 L874.3,421.2 L874.5,421.7 L874.8,422.1 L875.1,422.6 L875.3,423.0 L875.5,423.5 L875.7,424.0 L875.9,424.5 L876.0,425.0 L876.1,425.5 L876.2,426.1 L876.1,426.8 L875.9,427.4 L875.7,428.2 L875.3,429.0 L874.8,429.8 L874.2,430.7 L873.6,431.6 L873.0,432.5 L872.5,433.3 L872.1,434.1 L871.8,434.8 L871.6,435.4 L871.5,436.0 L871.5,436.6 L871.5,437.1 L871.6,437.6 L871.7,438.0 L871.8,438.5 L872.0,439.0 L872.2,439.4 L872.3,439.8 L872.5,440.3 L872.7,440.7 L872.9,441.1 L873.1,441.6 L873.4,442.0 L873.6,442.4 L873.8,442.8 L874.1,443.2 L874.4,443.6 L874.7,444.0 L875.1,444.3 L875.6,444.7 L876.1,445.0 L876.7,445.2 L877.5,445.4 L878.4,445.6 L879.4,445.8 L880.5,445.9 L881.6,446.0 L882.6,446.2 L883.5,446.4 L884.3,446.6 L885.0,446.9 L885.6,447.3 L886.1,447.7 L886.5,448.1 L886.8,448.5 L887.1,449.0 L887.3,449.4 L887.6,449.9 L887.8,450.4 L888.0,450.9 L888.1,451.4 L888.3,451.8 L888.4,452.3 L888.6,452.8 L888.7,453.4 L888.8,453.9 L888.9,454.4 L889.0,454.9 L889.0,455.4 L889.0,456.0 L889.0,456.5 L888.9,457.1 L888.7,457.6 L888.4,458.2 L888.0,458.9 L887.5,459.5 L886.8,460.2 L886.0,460.9 L885.2,461.6 L884.3,462.2 L883.6,462.9 L882.9,463.5 L882.4,464.1 L881.9,464.7 L881.6,465.3 L881.4,465.8 L881.3,466.3 L881.2,466.8 L881.2,467.3 L881.2,467.8 L881.2,468.2 L881.2,468.7 L881.3,469.2 L881.3,469.7 L881.4,470.1 L881.4,470.6 L881.5,471.1 L881.6,471.5 L881.7,472.0 L881.8,472.5 L881.9,472.9 L882.1,473.4 L882.3,473.8 L882.5,474.3 L882.8,474.7 L883.2,475.2 L883.7,475.6 L884.3,476.0 L885.1,476.5 L886.0,476.9 L886.9,477.3 L887.9,477.7 L888.9,478.2 L889.8,478.6 L890.6,479.1 L891.2,479.6 L891.7,480.0 L892.1,480.5 L892.4,481.0 L892.6,481.6 L892.8,482.1 L892.9,482.6 L893.0,483.1 L893.1,483.6 L893.1,484.1 L893.2,484.7 L893.2,485.2 Z" stroke-width="4.3"/>
</g>
<!-- small black logo -->
<g fill="none" stroke="#111" stroke-width="1.7">
<path d="M748.7,275.5 A26,26 0 0 1 800.7,275.5"/>
<path d="M728,270.7 H775"/>
<path d="M746.5,276.5 H816" stroke="#808080" stroke-width="2.6"/>
<path d="M774,231.5 V249.5 M743,245 L755,256.5 M804.5,244.5 L793.5,256 M760.5,242.5 L763,250 M787.5,242.5 L785,250 M740.5,262 L748.5,265.5 M807.5,262 L799.5,265.5"/>
<path d="M763,291.5 H787.5 M768,291.5 V305 Q768,308 762,308 M784,285 V305 Q784,308 789.5,308"/>
<ellipse cx="772" cy="286.7" rx="4.5" ry="2"/>
</g>

<!-- red dims -->
<g fill="none" stroke="#f00" stroke-width="4.6">
<path d="M62.3,764.5 V892 M150.4,643 V892"/>
<path d="M61,881.3 H276" stroke-width="4.2"/>
<path d="M403.3,377.2 H774 M403.3,594.3 H774"/>
<path d="M414.4,380 V592" stroke-width="4.8"/>
<path d="M654.8,489 V911 M893,489 V911"/>
<path d="M655,902 H893" stroke-width="4.4"/>
<path d="M1006.5,182.7 H982.7 L824,374" stroke-width="4" stroke-linejoin="miter"/>
</g>
<g fill="#f00" stroke="none">
<path d="M414.4,378 L408.4,398.5 H420.4 Z M414.4,593.6 L408.4,573 H420.4 Z"/>
<path d="M64,881.3 L83.5,876 V886.6 Z M148.6,881.3 L129,876 V886.6 Z"/>
<path d="M656.5,902 L676.5,896.5 V907.5 Z M891.3,902 L871.3,896.5 V907.5 Z"/>
<path d="M822.5,375.5 L831.8,356.2 L839.2,362.4 Z"/>
</g>

<!-- texts -->
<g fill="#f00" font-style="italic" stroke="#f00" stroke-width="0.5">
<text transform="translate(167.2,869) scale(0.755,1)" font-size="75.5" clip-path="url(#c11)"><tspan x="0">1</tspan><tspan x="37.48">1</tspan><tspan x="81.59">.6</tspan></text>
<text transform="translate(287.5,869) scale(0.80,1)" font-size="51" stroke-width="0.2">mm</text>
<text transform="translate(399.3,537) rotate(-90) scale(0.763,1)" font-size="77">22.7</text>
<text transform="translate(740,887) scale(0.771,1)" font-size="74.5">25</text>
<text transform="translate(1018,203.5) scale(0.791,1)" font-size="69">Z-22</text>
</g>
<g fill="#000" font-weight="bold">
<text transform="translate(24,1069.5) scale(0.791,1)" font-size="73">Chain 520</text>
<text transform="translate(877.5,1075) scale(0.797,1)" font-size="87" clip-path="url(#cjtf)">J<tspan dx="-3.2">T</tspan><tspan dx="-3.2">F</tspan> <tspan x="179.42">322</tspan><tspan x="324.59">1</tspan></text>
</g>
</svg>
</body></html>
